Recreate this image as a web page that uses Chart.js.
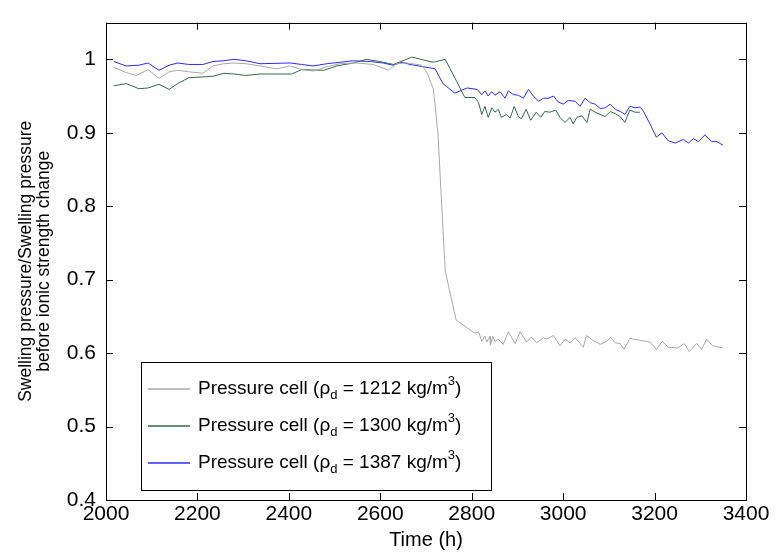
<!DOCTYPE html>
<html><head><meta charset="utf-8">
<script src="https://cdn.jsdelivr.net/npm/chart.js@4/dist/chart.umd.min.js"></script>
<style>html,body{margin:0;padding:0;background:#fff;}#wrap{width:782px;height:554px;position:relative;}</style>
</head><body><div id="wrap"><canvas id="c" width="782" height="554"></canvas></div>
<script>
const timeGray = [2017,2044,2066,2092,2116,2138,2157,2181,2212,2234,2258,2280,2306,2337,2373,2403,2428,2454,2483,2512,2548,2585,2618,2636,2658,2680,2690,2701,2716,2726,2742,2766,2782,2807,2815,2822,2829,2833,2840,2841,2846,2851,2858,2869,2880,2895,2906,2920,2931,2942,2957,2964,2979,2993,3004,3015,3026,3044,3051,3066,3081,3095,3104,3114,3125,3133,3146,3172,3190,3204,3217,3230,3251,3265,3276,3292,3303,3314,3327,3349];
const valueGray = [0.989,0.982,0.978,0.986,0.974,0.983,0.985,0.983,0.981,0.991,0.994,0.995,0.994,0.991,0.987,0.991,0.986,0.984,0.990,0.994,0.995,0.993,0.985,0.994,0.995,0.993,0.992,0.983,0.960,0.900,0.712,0.645,0.638,0.627,0.629,0.616,0.623,0.615,0.623,0.611,0.623,0.616,0.619,0.612,0.629,0.613,0.629,0.615,0.622,0.614,0.621,0.619,0.624,0.610,0.619,0.614,0.621,0.608,0.624,0.617,0.612,0.616,0.621,0.614,0.613,0.605,0.620,0.617,0.615,0.605,0.616,0.608,0.607,0.613,0.602,0.613,0.605,0.619,0.610,0.607];
const timeGreen = [2017,2044,2072,2092,2116,2138,2157,2181,2212,2234,2258,2280,2306,2337,2406,2428,2476,2505,2541,2570,2599,2629,2669,2716,2742,2767,2785,2807,2815,2822,2829,2836,2844,2851,2858,2865,2876,2884,2893,2902,2909,2919,2929,2941,2951,2960,2971,2984,2993,3004,3015,3022,3030,3041,3052,3059,3070,3081,3092,3103,3114,3125,3135,3146,3157,3168];
const valueGreen = [0.964,0.967,0.960,0.961,0.966,0.959,0.967,0.975,0.976,0.977,0.981,0.980,0.978,0.980,0.980,0.986,0.985,0.991,0.995,1.000,0.997,0.993,1.003,0.996,1.000,0.970,0.948,0.948,0.941,0.925,0.936,0.921,0.934,0.928,0.932,0.921,0.925,0.920,0.936,0.922,0.919,0.932,0.917,0.928,0.921,0.929,0.928,0.931,0.921,0.914,0.921,0.912,0.921,0.923,0.914,0.932,0.928,0.925,0.922,0.929,0.926,0.922,0.914,0.931,0.928,0.928];
const timeBlue = [2017,2044,2072,2092,2116,2138,2157,2181,2212,2234,2256,2280,2306,2337,2403,2428,2453,2483,2512,2540,2578,2606,2628,2648,2665,2694,2720,2737,2763,2790,2812,2822,2829,2836,2844,2851,2862,2873,2880,2891,2902,2913,2924,2935,2946,2957,2968,2979,2989,3000,3011,3026,3037,3048,3059,3070,3081,3092,3103,3114,3125,3135,3146,3157,3168,3175,3190,3204,3216,3230,3245,3263,3274,3285,3296,3310,3325,3336,3350];
const valueBlue = [0.997,0.991,0.992,0.995,0.985,0.992,0.995,0.993,0.993,0.997,0.998,1.000,0.998,0.994,0.995,0.993,0.991,0.994,0.996,0.998,0.997,0.995,0.992,0.996,0.993,0.990,0.987,0.967,0.954,0.961,0.959,0.952,0.957,0.950,0.956,0.951,0.956,0.947,0.957,0.952,0.951,0.947,0.959,0.950,0.943,0.947,0.947,0.950,0.942,0.939,0.944,0.943,0.936,0.947,0.941,0.939,0.933,0.934,0.939,0.932,0.929,0.925,0.936,0.934,0.935,0.930,0.912,0.894,0.900,0.889,0.886,0.891,0.886,0.892,0.888,0.897,0.888,0.888,0.883];
const densities = [1212, 1300, 1387];
const seriesColors = ['#a8a8a8', '#2f6a4a', '#2b2bff'];
const xTicks = [2000,2200,2400,2600,2800,3000,3200,3400];
const yTicks = [0.4,0.5,0.6,0.7,0.8,0.9,1];
const xTitle = 'Time (h)';
const yTitle = ['Swelling pressure/Swelling pressure', 'before ionic strength change'];

const FONT = '"Liberation Sans", Arial, Helvetica, sans-serif';
function pts(t, v) { return t.map((x, i) => ({ x: x, y: v[i] })); }

const boxPlugin = {
  id: 'box',
  afterDatasetsDraw(chart) {
    const ctx = chart.ctx, a = chart.chartArea;
    const xs = chart.scales.x, ys = chart.scales.y;
    ctx.save();
    ctx.strokeStyle = '#000';
    ctx.lineWidth = 1;
    ctx.strokeRect(Math.round(a.left) + 0.5, Math.round(a.top) + 0.5, Math.round(a.right - a.left), Math.round(a.bottom - a.top));
    ctx.beginPath();
    const L = 7;
    xTicks.forEach(v => {
      const px = Math.round(xs.getPixelForValue(v)) + 0.5;
      ctx.moveTo(px, a.bottom); ctx.lineTo(px, a.bottom - L);
      ctx.moveTo(px, a.top); ctx.lineTo(px, a.top + L);
    });
    yTicks.forEach(v => {
      const py = Math.round(ys.getPixelForValue(v)) + 0.5;
      ctx.moveTo(a.left, py); ctx.lineTo(a.left + L, py);
      ctx.moveTo(a.right, py); ctx.lineTo(a.right - L, py);
    });
    ctx.stroke();
    ctx.restore();
  },
  afterDraw(chart) {
    const ctx = chart.ctx, a = chart.chartArea;
    const bx = Math.round(a.left) + 35, by = Math.round(a.bottom) - 138, bw = 350, bh = 128;
    ctx.save();
    ctx.fillStyle = '#fff';
    ctx.fillRect(bx, by, bw, bh);
    ctx.strokeStyle = '#000';
    ctx.lineWidth = 1;
    ctx.strokeRect(bx + 0.5, by + 0.5, bw, bh);
    const rows = [by + 27, by + 64, by + 101];
    densities.forEach((d, i) => {
      const y = rows[i];
      ctx.strokeStyle = seriesColors[i];
      ctx.lineWidth = 1.3;
      ctx.beginPath();
      ctx.moveTo(bx + 7, y); ctx.lineTo(bx + 49, y);
      ctx.stroke();
      ctx.fillStyle = '#000';
      ctx.textBaseline = 'middle';
      ctx.textAlign = 'left';
      let x = bx + 57;
      const big = '19px ' + FONT, small = '13px ' + FONT;
      const parts = [
        ['Pressure cell (', big, 0],
        ['\u03C1', big, 0],
        ['d', small, 6],
        [' = ' + d + ' kg/m', big, 0],
        ['3', small, -8],
        [')', big, 0]
      ];
      parts.forEach(p => {
        ctx.font = p[1];
        ctx.fillText(p[0], x, y + p[2]);
        x += ctx.measureText(p[0]).width;
      });
    });
    ctx.restore();
  }
};

new Chart(document.getElementById('c'), {
  type: 'line',
  data: {
    datasets: [
      { label: 'Pressure cell (\u03C1d = ' + densities[0] + ' kg/m3)', data: pts(timeGray, valueGray), borderColor: seriesColors[0] },
      { label: 'Pressure cell (\u03C1d = ' + densities[1] + ' kg/m3)', data: pts(timeGreen, valueGreen), borderColor: seriesColors[1] },
      { label: 'Pressure cell (\u03C1d = ' + densities[2] + ' kg/m3)', data: pts(timeBlue, valueBlue), borderColor: seriesColors[2] }
    ]
  },
  options: {
    responsive: false,
    animation: false,
    devicePixelRatio: 1,
    layout: { padding: { top: 9, right: 36, left: 0, bottom: 0 } },
    elements: { line: { borderWidth: 1, tension: 0, fill: false }, point: { radius: 0 } },
    plugins: { legend: { display: false }, tooltip: { enabled: false } },
    scales: {
      x: {
        type: 'linear', min: 2000, max: 3400,
        afterBuildTicks: s => { s.ticks = xTicks.map(v => ({ value: v })); },
        afterFit: s => { s.height = 54; },
        grid: { display: false, drawTicks: false },
        border: { display: false },
        ticks: { color: '#000', font: { family: FONT, size: 21 }, padding: 2, maxRotation: 0, autoSkip: false, callback: v => String(v) },
        title: { display: true, text: xTitle, color: '#000', font: { family: FONT, size: 20 }, padding: { top: 0, bottom: 2 } }
      },
      y: {
        type: 'linear', min: 0.4, max: 1.05,
        afterBuildTicks: s => { s.ticks = yTicks.map(v => ({ value: v })); },
        afterFit: s => { s.width = 106; },
        grid: { display: false, drawTicks: false },
        border: { display: false },
        ticks: { color: '#000', font: { family: FONT, size: 21 }, padding: 10, autoSkip: false, callback: v => String(Math.round(v * 10) / 10) },
        title: { display: true, text: yTitle, color: '#000', font: { family: FONT, size: 17.5, lineHeight: 1.05 }, padding: { top: 17, bottom: 0 } }
      }
    }
  },
  plugins: [boxPlugin]
});
</script>
</body></html>
